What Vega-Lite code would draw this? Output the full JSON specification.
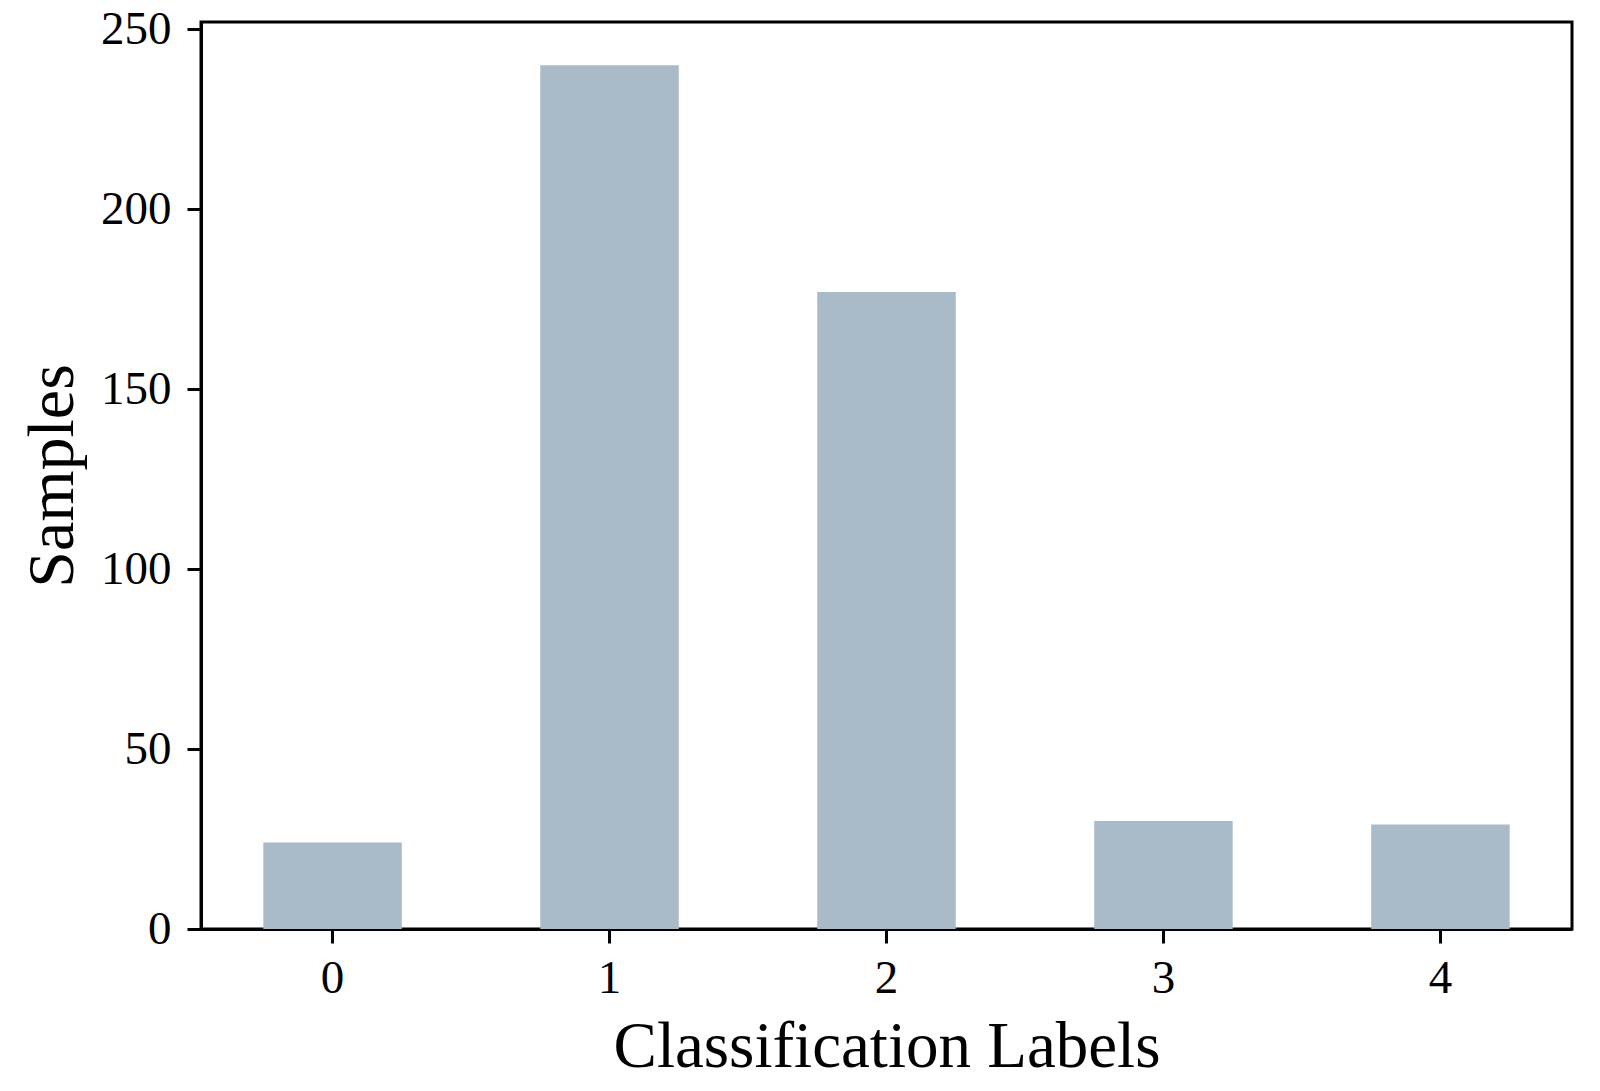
{
  "$schema": "https://vega.github.io/schema/vega-lite/v6.json",
  "width": 1371,
  "height": 907,
  "autosize": {"type": "none"},
  "padding": {"left": 201, "top": 22, "right": 28, "bottom": 162},
  "background": "white",
  "data": {"values": [
    {"label": "0", "samples": 24},
    {"label": "1", "samples": 240},
    {"label": "2", "samples": 177},
    {"label": "3", "samples": 30},
    {"label": "4", "samples": 29}
  ]},
  "mark": {"type": "bar", "color": "#a9bbc9"},
  "encoding": {
    "x": {
      "field": "label", "type": "ordinal", "sort": null,
      "scale": {"paddingInner": 0.5, "paddingOuter": 0.225},
      "axis": {
        "title": "Classification Labels",
        "labelAngle": 0,
        "labelFont": "Liberation Serif", "labelFontSize": 47, "labelColor": "black",
        "labelPadding": 12,
        "titleFont": "Liberation Serif", "titleFontSize": 65, "titleFontWeight": "normal", "titleColor": "black",
        "titleBaseline": "alphabetic", "titleY": 137,
        "tickSize": 14, "tickWidth": 3, "tickColor": "black",
        "domainColor": "black", "domainWidth": 3
      }
    },
    "y": {
      "field": "samples", "type": "quantitative",
      "scale": {"domain": [0, 252], "nice": false, "zero": true},
      "axis": {
        "title": "Samples",
        "values": [0, 50, 100, 150, 200, 250],
        "grid": false,
        "labelFont": "Liberation Serif", "labelFontSize": 47, "labelColor": "black",
        "labelPadding": 16,
        "titleFont": "Liberation Serif", "titleFontSize": 66, "titleFontWeight": "normal", "titleColor": "black",
        "titleBaseline": "alphabetic", "titleX": -129,
        "tickSize": 14, "tickWidth": 3, "tickColor": "black",
        "domainColor": "black", "domainWidth": 3
      }
    }
  },
  "config": {
    "view": {"stroke": "black", "strokeWidth": 3},
    "axis": {"labelFlush": false}
  }
}
